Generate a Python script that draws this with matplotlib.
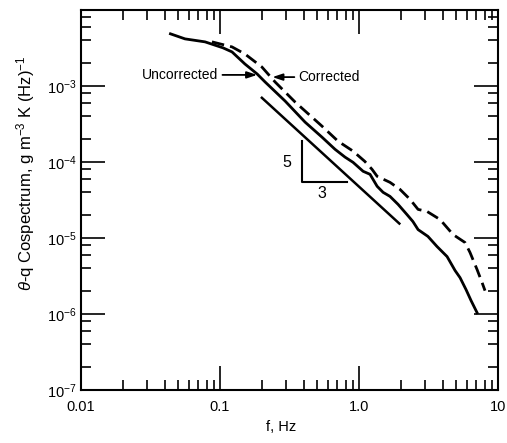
import numpy as np
import matplotlib
matplotlib.use('Agg')
import matplotlib.pyplot as plt
from matplotlib.ticker import LogLocator, NullFormatter

plt.rcParams['font.family'] = ['Liberation Sans', 'DejaVu Sans']
plt.rcParams['mathtext.fontset'] = 'custom'
plt.rcParams['mathtext.rm'] = 'Liberation Sans'
plt.rcParams['mathtext.it'] = 'Liberation Sans:italic'
plt.rcParams['mathtext.bf'] = 'Liberation Sans:bold'

# uncorrected cospectrum (solid)
f_unc = [0.044, 0.056, 0.078, 0.105, 0.122, 0.151, 0.185, 0.211, 0.294, 0.409,
         0.542, 0.672, 0.793, 0.906, 1.07, 1.20, 1.35, 1.49, 1.67, 1.91,
         2.21, 2.44, 2.66, 3.13, 3.64, 4.30, 4.91, 5.33, 5.89, 6.40, 7.07]
s_unc = [4.86e-3, 4.17e-3, 3.81e-3, 3.18e-3, 2.81e-3, 1.95e-3, 1.44e-3, 1.13e-3, 6.34e-4, 3.35e-4,
         2.12e-4, 1.47e-4, 1.16e-4, 9.9e-5, 7.55e-5, 6.89e-5, 4.79e-5, 3.99e-5, 3.53e-5, 2.77e-5,
         2.04e-5, 1.65e-5, 1.29e-5, 1.05e-5, 7.73e-6, 5.70e-6, 3.73e-6, 3.01e-6, 2.09e-6, 1.50e-6, 1.04e-6]

# corrected cospectrum (dashed)
f_cor = [0.0875, 0.122, 0.151, 0.200, 0.249, 0.347, 0.542, 0.706, 0.906, 1.10,
         1.24, 1.35, 1.67, 1.97, 2.33, 2.66, 3.08, 3.83, 4.75, 5.79,
         6.29, 7.07, 7.68, 8.06]
s_cor = [3.81e-3, 3.27e-3, 2.64e-3, 1.78e-3, 1.13e-3, 6.15e-4, 2.96e-4, 1.88e-4, 1.39e-4, 1.02e-4,
         8.02e-5, 6.48e-5, 5.40e-5, 4.37e-5, 3.22e-5, 2.38e-5, 2.24e-5, 1.75e-5, 1.11e-5, 8.72e-6,
         6.44e-6, 3.84e-6, 2.59e-6, 2.03e-6]

# -5/3 reference line and slope triangle
f_ref = [0.20, 1.95]
s_ref = [7.0e-4, 1.55e-5]
f_tri = [0.386, 0.386, 0.82]
s_tri = [1.89e-4, 5.5e-5, 5.5e-5]

xticks = [0.01, 0.1, 1.0, 10]
xtick_labels = ['0.01', '0.1', '1.0', '10']
yticks = [1e-7, 1e-6, 1e-5, 1e-4, 1e-3, 1e-2]
ytick_labels = [r'$10^{-7}$', r'$10^{-6}$', r'$10^{-5}$', r'$10^{-4}$', r'$10^{-3}$', '']

fig = plt.figure(figsize=(5.07, 4.43), dpi=100)
ax = fig.add_axes([0.1598, 0.1196, 0.8225, 0.8578])

ax.plot(f_unc, s_unc, color='black', lw=2.0)
ax.plot(f_cor, s_cor, color='black', lw=2.0, dashes=(4.5, 2.2))
ax.plot(f_ref, s_ref, color='black', lw=1.8)
ax.plot(f_tri, s_tri, color='black', lw=1.5)

ax.text(0.30, 1.0e-4, '5', fontsize=11.5, ha='center', va='center')
ax.text(0.545, 3.9e-5, '3', fontsize=11.5, ha='center', va='center')

arrow = dict(arrowstyle='-|>,head_length=0.6,head_width=0.2', color='black', lw=1.3, shrinkA=1, shrinkB=0)
ax.annotate('Uncorrected', xy=(0.185, 1.40e-3), xytext=(0.0972, 1.40e-3),
            ha='right', va='center', fontsize=10, arrowprops=arrow)
ax.annotate('Corrected', xy=(0.238, 1.31e-3), xytext=(0.367, 1.31e-3),
            ha='left', va='center', fontsize=10, arrowprops=arrow)

ax.set_xscale('log')
ax.set_yscale('log')
ax.set_xlim(0.01, 10)
ax.set_ylim(1e-7, 1e-2)

ax.set_xticks(xticks, labels=xtick_labels)
ax.set_yticks(yticks, labels=ytick_labels)
ax.xaxis.set_minor_locator(LogLocator(base=10, subs=np.arange(2, 10)))
ax.yaxis.set_minor_locator(LogLocator(base=10, subs=[2, 4, 6, 8]))
ax.xaxis.set_minor_formatter(NullFormatter())
ax.yaxis.set_minor_formatter(NullFormatter())

ax.tick_params(which='both', direction='in', top=True, right=True, width=1.2, labelsize=10.5)
ax.tick_params(which='major', length=17)
ax.tick_params(which='minor', length=7)
ax.tick_params(axis='x', which='major', pad=7)
ax.tick_params(axis='y', which='major', pad=3)
for sp in ax.spines.values():
    sp.set_linewidth(1.5)

ax.set_xlabel('f, Hz', fontsize=10.5)
ax.xaxis.set_label_coords(0.48, -0.08)
ax.set_ylabel(r'$\mathit{\theta}$-q Cospectrum, g m$^{-3}$ K (Hz)$^{-1}$', fontsize=12)
ax.yaxis.set_label_coords(-0.105, 0.57)

fig.savefig('out.png', dpi=100)
